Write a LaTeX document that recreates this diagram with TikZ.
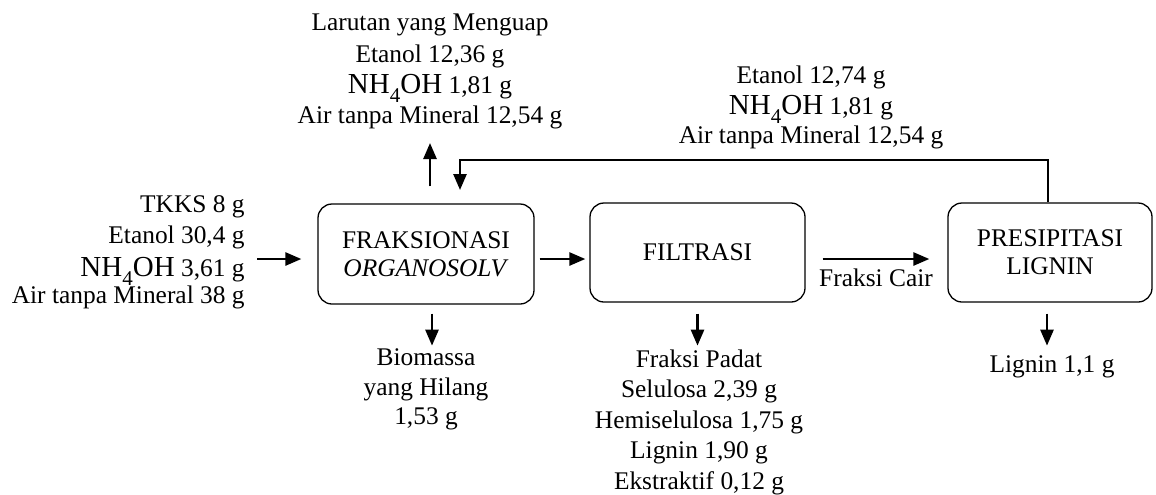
\documentclass[tikz,border=0pt]{standalone}
\usepackage{fontspec}
\setmainfont{Liberation Serif}
\usetikzlibrary{arrows.meta}
\newcommand{\nhfoh}{{\fontsize{14.5}{16}\selectfont NH\smash{\lower4.5pt\hbox{\fontsize{10.5}{12}\selectfont 4}}OH}}
\begin{document}
\begin{tikzpicture}[x=0.5pt,y=-0.5pt,
  txt/.style={inner sep=0pt, align=center, font=\fontsize{12.7}{15.5}\selectfont},
  proc/.style={draw, rounded corners=7pt, line width=0.65pt, align=center,
    inner sep=0pt, font=\fontsize{12.7}{14}\selectfont},
  arr/.style={line width=1.3pt, -{Triangle[length=8pt,width=6.5pt]}}]
\useasboundingbox (0,0) rectangle (1156,494);

% process boxes
\node[proc, minimum width=108pt, minimum height=50pt] (b1) at (426,254)
  {FRAKSIONASI\\\textit{ORGANOSOLV}};
\node[proc, minimum width=107.5pt, minimum height=49.5pt] (b2) at (697.5,252.5)
  {FILTRASI};
\node[proc, minimum width=102pt, minimum height=49.5pt] (b3) at (1050,252.5)
  {PRESIPITASI\\LIGNIN};

% input text (right aligned); anchor = baseline of last line
\node[txt, align=right, anchor=base east] (in) at (245,303)
  {TKKS 8 g\\Etanol 30,4 g\\[1pt]\nhfoh{} 3,61 g\\[-2pt]Air tanpa Mineral 38 g};

% evaporated text
\node[txt, anchor=base] (ev) at (430,123)
  {Larutan yang Menguap\\[0.5pt]Etanol 12,36 g\\\nhfoh{} 1,81 g\\[-0.5pt]Air tanpa Mineral 12,54 g};

% recycle text
\node[txt, anchor=base] (rc) at (811,143)
  {Etanol 12,74 g\\\nhfoh{} 1,81 g\\[-1pt]Air tanpa Mineral 12,54 g};

% lost biomass
\node[txt, anchor=base] (lb) at (426,424)
  {Biomassa\\[-0.5pt]yang Hilang\\[-1pt]1,53 g};

% solid fraction
\node[txt, anchor=base] (sf) at (699,489)
  {Fraksi Padat\\[-0.5pt]Selulosa 2,39 g\\Hemiselulosa 1,75 g\\[-0.5pt]Lignin 1,90 g\\Ekstraktif 0,12 g};

% lignin
\node[txt, anchor=base] (lg) at (1052,372) {Lignin 1,1 g};

% liquid fraction label
\node[txt, anchor=base] (fc) at (876,286) {Fraksi Cair};

% connectors
\coordinate (inS) at (257,259);
\draw[arr] (inS) -- ([xshift=-8pt,yshift=-2.5pt]b1.west);
\draw[arr] ([xshift=2.5pt,yshift=-2.5pt]b1.east) -- ([xshift=-2pt,yshift=-3.25pt]b2.west);
\draw[arr] ([xshift=8.5pt,yshift=-3.25pt]b2.east) -- ([xshift=-9pt,yshift=-3.25pt]b3.west);

\coordinate (upE) at (430,143);
\draw[arr] ([xshift=2pt,yshift=8.5pt]b1.north) -- (upE);

\coordinate (fbA) at (1048,160);
\coordinate (fbB) at (460,160);
\coordinate (fbE) at (460,190);
\draw[arr] ([xshift=-1pt]b3.north) -- (fbA) -- (fbB) -- (fbE);

\draw[arr] ([xshift=3pt,yshift=-4.5pt]b1.south) -- ++(0,-16pt);
\draw[arr] ([yshift=-5.5pt]b2.south) -- ++(0,-16pt);
\draw[arr] ([xshift=-1.5pt,yshift=-5.5pt]b3.south) -- ++(0,-16pt);
\end{tikzpicture}
\end{document}
